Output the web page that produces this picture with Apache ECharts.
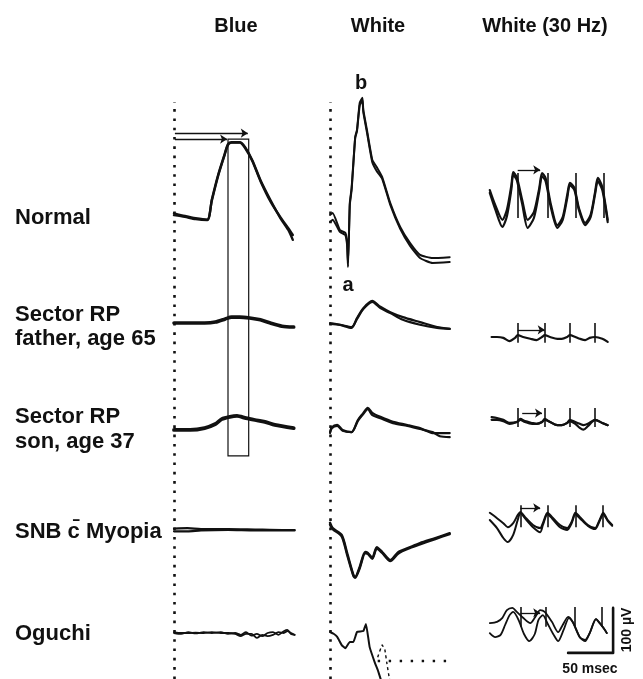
<!DOCTYPE html>
<html>
<head>
<meta charset="utf-8">
<script src="https://cdn.jsdelivr.net/npm/echarts/dist/echarts.min.js"></script>
<style>
  html, body { margin: 0; padding: 0; background: #fff; }
  #chart { width: 643px; height: 679px; }
</style>
</head>
<body>
<div id="chart"></div>
<script>
// Electroretinograms: time in msec after the flash, amplitude in µV from the pre-flash baseline.

const columnTitles = ['Blue', 'White', 'White (30 Hz)'];
const rowTitles = [['Normal'], ['Sector RP', 'father, age 65'], ['Sector RP', 'son, age 37'], ['SNB c\u0304 Myopia'], ['Oguchi']];

// ---- Blue flash (rod) responses ----
const blueNormalA = [[0,2],[12,-2],[24,-7],[37,-9],[42,36],[49,91],[56,136],[60,160],[64,164],[73,164],[79,153],[87,124],[96,80],[107,36],[118,-4],[127,-31],[132,-53]];
const blueNormalB = [[0,6],[12,0],[24,-5],[37,-8],[42,34],[49,89],[56,134],[60,158],[64,163],[73,163],[79,151],[87,122],[96,78],[107,33],[118,-2],[127,-27],[132,-42]];
const blueFather = [[0,0],[18,0],[34,0],[46,2],[57,9],[64,13],[73,13],[84,11],[96,7],[107,0],[120,-7],[133,-9]];
const blueSon = [[0,-2],[18,-2],[34,2],[46,11],[53,22],[62,27],[70,29],[80,24],[90,20],[101,16],[112,9],[133,2]];
const blueSnbA = [[0,3],[15,4],[30,2],[60,2],[90,1],[120,0],[134,0]];
const blueSnbB = [[0,-3],[15,-3],[30,-1],[60,0],[90,-1],[120,-1],[134,-1]];
const blueOguchiA = [[0,0],[8,-2],[16,2],[24,-1],[33,2],[42,0],[52,2],[60,-2],[68,0],[74,-4],[80,2],[86,-6],[92,-2],[98,-7],[104,0],[110,2],[116,-4],[122,4],[126,7],[130,-2],[134,-4]];
const blueOguchiB = [[0,2],[8,0],[16,0],[24,1],[33,0],[42,2],[52,0],[60,0],[68,-2],[74,-7],[80,-2],[86,-2],[92,-11],[98,-4],[104,-7],[110,-4],[116,2],[122,0],[126,4],[130,0],[134,-4]];

// ---- White flash (mixed) responses ----
const whiteNormalA = [[0,7],[3,11],[11,-27],[17,-33],[19,-56],[20,-109],[22,33],[24,67],[28,180],[30,196],[33,256],[36,267],[37,240],[41,196],[47,129],[52,113],[58,91],[67,33],[78,-20],[89,-56],[100,-82],[114,-89],[133,-87]];
const whiteNormalB = [[0,-9],[3,-4],[11,-31],[17,-38],[19,-60],[20,-100],[22,29],[24,62],[28,178],[30,193],[33,250],[36,262],[37,236],[41,191],[47,124],[52,104],[58,87],[67,29],[78,-24],[89,-62],[100,-89],[114,-100],[133,-98]];
const whiteFatherA = [[0,0],[11,-4],[24,-11],[30,11],[37,33],[47,49],[56,36],[67,24],[81,13],[100,2],[119,-9],[133,-13]];
const whiteFatherB = [[0,-2],[11,-4],[24,-9],[30,9],[37,31],[47,47],[56,33],[67,22],[81,7],[100,-4],[119,-11],[133,-13]];
const whiteSonA = [[0,-7],[2,4],[8,9],[14,-2],[24,-7],[31,20],[36,33],[42,47],[47,36],[56,27],[70,16],[86,9],[100,2],[114,-9],[133,-9]];
const whiteSonB = [[0,-9],[2,2],[8,7],[14,-4],[24,-7],[31,18],[36,31],[42,44],[47,31],[56,24],[70,13],[86,7],[100,0],[114,-7],[122,-16],[133,-18]];
const whiteSnbA = [[0,16],[3,4],[13,-11],[19,-51],[26,-100],[28,-104],[33,-82],[39,-49],[42,-51],[47,-62],[52,-38],[58,-49],[67,-67],[76,-49],[89,-38],[100,-29],[117,-18],[133,-7]];
const whiteSnbB = [[0,12],[3,2],[13,-14],[19,-55],[26,-102],[28,-106],[33,-85],[39,-52],[42,-53],[47,-64],[52,-41],[58,-51],[67,-69],[76,-52],[89,-40],[100,-32],[117,-20],[133,-9]];
const whiteOguchi = [[0,0],[4,-4],[8,-11],[13,-29],[17,-36],[22,-22],[26,-22],[30,0],[37,2],[40,18],[44,-33],[50,-69],[53,-84],[57,-109],[60,-125]];
const whiteOguchiFaint = [[53,-56],[58,-29],[61,-40],[63,-67],[66,-104],[68,-125]];

// ---- 30 Hz flicker (cone) responses ----
const flickNormalA = [[2,22],[8,-11],[16,-44],[21,-22],[26,33],[28,62],[32,51],[38,0],[44,-44],[51,-27],[57,27],[60,60],[64,49],[70,-11],[77,-56],[83,-38],[88,11],[91,38],[96,27],[101,-18],[108,-51],[114,-33],[119,18],[122,49],[127,29],[133,-44]];
const flickNormalB = [[2,16],[8,-20],[16,-60],[21,-36],[26,24],[28,56],[32,44],[38,-9],[44,-62],[51,-40],[57,20],[60,53],[64,42],[70,-18],[77,-62],[83,-44],[88,4],[91,33],[96,22],[101,-22],[108,-56],[114,-38],[119,13],[122,42],[127,22],[133,-49]];
const flickFather = [[4,0],[10,0],[17,-2],[24,-9],[30,-2],[33,4],[39,0],[47,-4],[54,-7],[60,0],[63,4],[69,0],[77,-4],[82,-4],[88,0],[91,4],[97,0],[102,-4],[108,-7],[113,-2],[119,0],[127,-4],[133,-11]];
const flickSonA = [[4,2],[10,0],[17,-4],[24,-11],[32,-9],[36,-2],[41,-7],[49,-11],[54,-13],[60,-9],[63,-2],[69,-9],[77,-16],[82,-16],[88,-11],[91,-4],[97,-9],[102,-13],[106,-16],[111,-13],[119,-4],[127,-11],[133,-16]];
const flickSonB = [[4,-4],[10,-4],[17,-7],[24,-13],[32,-9],[36,-4],[41,-9],[49,-13],[54,-13],[60,-9],[63,-4],[69,-9],[77,-16],[82,-16],[88,-11],[91,-7],[97,-13],[102,-22],[106,-26],[111,-18],[119,-4],[127,-11],[133,-16]];
const flickSnbA = [[2,16],[10,4],[17,-7],[22,-16],[28,-7],[33,11],[36,18],[41,7],[50,-11],[58,-18],[61,-7],[66,16],[71,7],[80,-11],[88,-18],[93,-4],[97,16],[102,7],[111,-11],[119,-18],[124,0],[128,16],[133,0],[138,-11]];
const flickSnbB = [[2,0],[10,-18],[17,-40],[22,-49],[28,-33],[33,0],[36,16],[41,4],[50,-16],[58,-27],[61,-11],[66,13],[71,4],[80,-16],[88,-22],[93,-7],[97,13],[102,4],[111,-13],[119,-20],[124,-2],[128,13],[133,-2],[138,-13]];
const flickOguchiA = [[2,4],[10,7],[16,16],[21,33],[27,38],[32,29],[39,16],[47,4],[52,16],[58,33],[63,29],[71,7],[78,-16],[83,0],[89,18],[94,7],[102,-27],[108,-33],[113,-18],[120,13],[124,4],[130,-11],[132,-18]];
const flickOguchiB = [[2,-18],[8,-27],[14,-22],[19,0],[24,22],[28,29],[34,11],[40,-20],[46,-36],[52,-20],[56,11],[61,22],[66,4],[73,-22],[78,-36],[84,-11],[90,16],[95,4],[102,-27],[108,-36],[113,-18],[120,13],[126,0],[132,-18]];

// Flash times (msec) of the 30 Hz stimulus, per subject
const flashNormal = [33, 66, 98, 129];
const flashFather = [33, 63, 91, 119];
const flashSon = [33, 63, 91, 119];
const flashSnb = [36, 66, 97, 128];
const flashOguchi = [36, 64, 96, 126];

// Peak-time window of the normal blue b-wave (msec) and its implicit-time arrows
const blueWindow = [60, 83];
const blueArrows = [[1, 82], [1, 59]];

// Calibration bar
const SCALE_MS = 50;
const SCALE_UV = 100;

// ---------------- layout ----------------
const PX_PER_MS = 0.9;   // 50 msec -> 45 px
const PX_PER_UV = 0.45;  // 100 µV  -> 45 px
const COL_X = [174, 330, 488];
const ROW_Y = [[216, 218, 200], [323, 323, 337], [429, 429, 418], [530, 530, 520], [633, 632, 625]];
const CANVAS_H = 679;
const PAD = 8, WIDTH = 160, ABOVE = 150, BELOW = 80;
const INK = '#111';
const FONT = 'bold 20px "Liberation Sans", Arial, sans-serif';
const LABEL_FONT = 'bold 22px "Liberation Sans", Arial, sans-serif';

const option = { animation: false, backgroundColor: '#fff', grid: [], xAxis: [], yAxis: [], series: [], graphic: [] };

function addGrid(left, top, width, height, xMin, xMax, yMin, yMax) {
  const i = option.grid.length;
  option.grid.push({ left, top, width, height });
  option.xAxis.push({ type: 'value', gridIndex: i, min: xMin, max: xMax, show: false, splitLine: { show: false } });
  option.yAxis.push({ type: 'value', gridIndex: i, min: yMin, max: yMax, show: false, splitLine: { show: false } });
  return i;
}
function panel(col, row) {
  const x0 = COL_X[col], y0 = ROW_Y[row][col];
  const below = Math.min(BELOW, CANVAS_H - y0);   // keep every grid inside the canvas
  return addGrid(x0 - PAD, y0 - ABOVE, WIDTH, ABOVE + below,
    -PAD / PX_PER_MS, (WIDTH - PAD) / PX_PER_MS, -below / PX_PER_UV, ABOVE / PX_PER_UV);
}
function columnGrid(col) {
  // spans the whole column; y = 0 on the top row's baseline
  const x0 = COL_X[col], y0 = ROW_Y[0][col], top = 102, bottom = CANVAS_H;
  return addGrid(x0 - PAD, top, WIDTH, bottom - top,
    -PAD / PX_PER_MS, (WIDTH - PAD) / PX_PER_MS, -(bottom - y0) / PX_PER_UV, (y0 - top) / PX_PER_UV);
}
function trace(gi, data, width, extra) {
  option.series.push(Object.assign({
    type: 'line', xAxisIndex: gi, yAxisIndex: gi, data, symbol: 'none', smooth: 0.25, silent: true, z: 3,
    lineStyle: { color: INK, width: width || 2, join: 'round', cap: 'round' }
  }, extra || {}));
}
function marks(gi, markLine, markArea) {
  const s = { type: 'line', xAxisIndex: gi, yAxisIndex: gi, data: [], symbol: 'none', silent: true };
  if (markLine) s.markLine = Object.assign({ silent: true, symbol: ['none', 'none'], label: { show: false }, animation: false }, markLine);
  if (markArea) s.markArea = Object.assign({ silent: true, label: { show: false }, animation: false }, markArea);
  option.series.push(s);
}
function seg(x1, y1, x2, y2) { return [{ coord: [x1, y1] }, { coord: [x2, y2] }]; }
function arrow(gi, from, to, level) {
  marks(gi, { symbol: ['none', 'arrow'], symbolSize: 7, lineStyle: { color: INK, width: 1.3, type: 'solid' }, data: [seg(from, level, to, level)] });
}
function flashTicks(gi, times, lo, hi) {
  marks(gi, { lineStyle: { color: INK, width: 1.6, type: 'solid' }, data: times.map(t => seg(t, lo, t, hi)) });
}

// stimulus-onset dotted lines, blue peak window and arrows
const blueCol = columnGrid(0);
marks(blueCol, { lineStyle: { color: INK, width: 2.6, type: [2.6, 6.7], cap: 'butt' }, data: [{ xAxis: 0 }] });
marks(blueCol, null, {
  itemStyle: { color: 'rgba(0,0,0,0)', borderColor: INK, borderWidth: 1.2 },
  data: [[{ coord: [blueWindow[0], 171] }, { coord: [blueWindow[1], -533] }]]
});
arrow(blueCol, blueArrows[0][0], blueArrows[0][1], 184);
arrow(blueCol, blueArrows[1][0], blueArrows[1][1], 171);
const whiteCol = columnGrid(1);
marks(whiteCol, { lineStyle: { color: INK, width: 2.6, type: [2.6, 6.7], cap: 'butt' }, data: [{ xAxis: 0 }] });

// Blue column
let g = panel(0, 0); trace(g, blueNormalA, 2.4); trace(g, blueNormalB, 2.4);
g = panel(0, 1); trace(g, blueFather, 3.6);
g = panel(0, 2); trace(g, blueSon, 3.8);
g = panel(0, 3); trace(g, blueSnbA, 2.2); trace(g, blueSnbB, 2.2);
g = panel(0, 4); trace(g, blueOguchiA, 1.8); trace(g, blueOguchiB, 1.8);

// White column
g = panel(1, 0); trace(g, whiteNormalA, 2, { smooth: 0.15 }); trace(g, whiteNormalB, 2, { smooth: 0.15 });
g = panel(1, 1); trace(g, whiteFatherA, 2.2); trace(g, whiteFatherB, 2.2);
g = panel(1, 2); trace(g, whiteSonA, 2.2); trace(g, whiteSonB, 2.2);
g = panel(1, 3); trace(g, whiteSnbA, 2.4); trace(g, whiteSnbB, 2.4);
g = panel(1, 4); trace(g, whiteOguchi, 2, { smooth: 0.1 });
trace(g, whiteOguchiFaint, 1.4, { smooth: 0.1, lineStyle: { color: INK, width: 1.4, type: [3, 3] } });
marks(g, { lineStyle: { color: INK, width: 2.4, type: [2.4, 8.6], cap: 'butt' }, data: [seg(53, -64, 133, -64)] });

// 30 Hz column
g = panel(2, 0); trace(g, flickNormalA, 2.2); trace(g, flickNormalB, 2.2);
flashTicks(g, flashNormal, -40, 60); arrow(g, 33, 58, 67);
g = panel(2, 1); trace(g, flickFather, 2.2);
flashTicks(g, flashFather, -13, 31); arrow(g, 33, 63, 16);
g = panel(2, 2); trace(g, flickSonA, 2.2); trace(g, flickSonB, 2.2);
flashTicks(g, flashSon, -20, 22); arrow(g, 38, 60, 11);
g = panel(2, 3); trace(g, flickSnbA, 2); trace(g, flickSnbB, 2);
flashTicks(g, flashSnb, -16, 33); arrow(g, 36, 58, 27);
g = panel(2, 4); trace(g, flickOguchiA, 1.8); trace(g, flickOguchiB, 1.8);
flashTicks(g, flashOguchi, -4, 40); arrow(g, 36, 58, 27);

// calibration bar, anchored at its corner
const corner = [139, -62];
trace(g, [[corner[0] - SCALE_MS, corner[1]], corner, [corner[0], corner[1] + SCALE_UV]], 2.6, { smooth: false });

// ---------------- text ----------------
function text(str, x, y, opts) {
  const o = opts || {};
  option.graphic.push({
    type: 'text', silent: true, rotation: o.rotation || 0, x, y,
    style: {
      text: str, x: 0, y: 0, font: o.font || FONT, fill: INK,
      textAlign: o.align || 'left', align: o.align || 'left',
      textVerticalAlign: 'middle', verticalAlign: 'middle'
    }
  });
}
const headerX = [236, 378, 545];
columnTitles.forEach((t, i) => text(t, headerX[i], 26, { align: 'center' }));
const labelY = [[218], [315, 339], [417, 442], [532], [634]];
rowTitles.forEach((lines, r) => lines.forEach((t, k) => text(t, 15, labelY[r][k], { font: LABEL_FONT })));
text('b', 361, 83, { align: 'center' });
text('a', 348, 285, { align: 'center' });
text('100 \u00b5V', 627, 630, { align: 'center', rotation: Math.PI / 2, font: 'bold 14px "Liberation Sans", Arial, sans-serif' });
text('50 msec', 590, 669, { align: 'center', font: 'bold 14px "Liberation Sans", Arial, sans-serif' });

const chart = echarts.init(document.getElementById('chart'), null, { renderer: 'canvas' });
chart.setOption(option);
</script>
</body>
</html>
